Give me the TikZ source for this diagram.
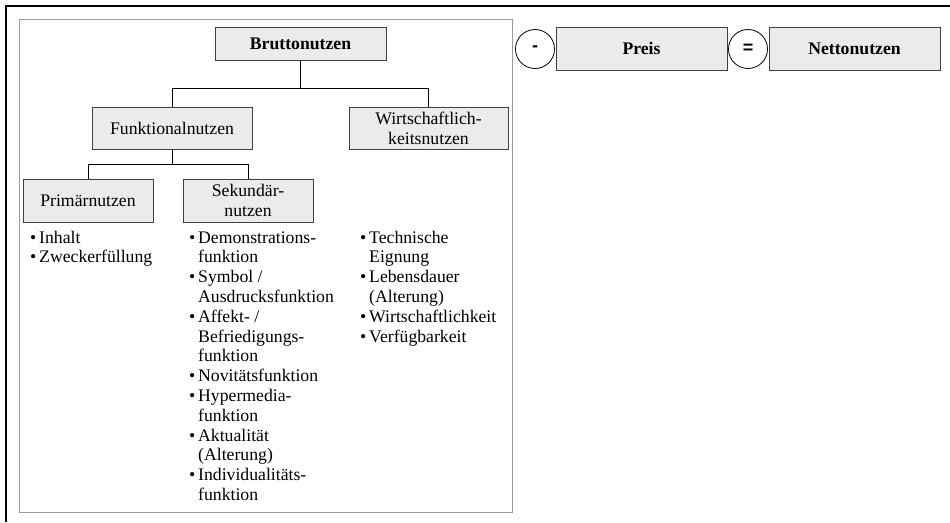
\documentclass[tikz,border=0pt]{standalone}
\usepackage{fontspec}
\setmainfont{Liberation Serif}
\newfontfamily\opfont{Liberation Sans}
\definecolor{boxfill}{HTML}{EBEBEB}
\definecolor{boxline}{HTML}{404040}
\definecolor{framegray}{HTML}{9A9A9A}
\newcommand{\bul}{\makebox[9pt][l]{\textbullet}}
\newcommand{\ind}{\hspace*{9pt}}
\newcommand{\li}[1]{\hbox{#1}}
\newcommand{\mylist}[1]{\vtop{\baselineskip=19.8pt\lineskiplimit=-10pt #1}}
\begin{document}
\begin{tikzpicture}[x=1pt,y=-1pt,
  every node/.style={font=\fontsize{17.7}{20}\selectfont},
  box/.style={draw=boxline, fill=boxfill, line width=0.9pt, inner sep=0pt, align=center},
  op/.style={draw=black, circle, line width=0.8pt, minimum size=39pt, inner sep=0pt, font=\opfont\bfseries\fontsize{18}{20}\selectfont},
  conn/.style={draw=black, line width=0.9pt},
  blist/.style={anchor=base west, inner sep=0pt}
]
\useasboundingbox (0,0) rectangle (950,522);
\fill[white] (0,0) rectangle (950,522);
% frames
\draw[line width=2.2pt, black] (6,522) -- (6,6) -- (950,6);
\draw[framegray, line width=1pt] (19,19) rectangle (512,512);
% boxes
\node[box, minimum width=171pt, minimum height=33pt, font=\fontsize{17.7}{20}\selectfont\bfseries] (brutto) at (300.5,43.5) {Bruttonutzen};
\node[box, minimum width=160pt, minimum height=42pt] (funk) at (172,128) {Funktionalnutzen};
\node[box, minimum width=159pt, minimum height=42pt] (wirt) at (428.5,128) {Wirtschaftlich-\\keitsnutzen};
\node[box, minimum width=130pt, minimum height=43pt] (prim) at (88,200.5) {Primärnutzen};
\node[box, minimum width=130pt, minimum height=43pt] (sek) at (248,200.5) {Sekundär-\\nutzen};
\node[box, minimum width=171pt, minimum height=43pt, font=\fontsize{17.7}{20}\selectfont\bfseries] (preis) at (641.5,48.5) {Preis};
\node[box, minimum width=171pt, minimum height=43pt, font=\fontsize{17.7}{20}\selectfont\bfseries] (netto) at (854.5,48.5) {Nettonutzen};
\node[op] (minus) at (535,49) {-};
\node[op] (equals) at (748,49) {=};
% connectors
\coordinate (j1) at (300.5,88);
\coordinate (j2) at (172,164);
\draw[conn] (brutto.south) -- (j1);
\draw[conn] (j1) -| (funk.north);
\draw[conn] (j1) -| (wirt.north);
\draw[conn] (funk.south) -- (j2);
\draw[conn] (j2) -| (prim.north);
\draw[conn] (j2) -| (sek.north);
% lists
\node[blist] (l1) at (30,243) {\mylist{\li{\bul Inhalt}\li{\bul Zweckerfüllung}}};
\node[blist] (l2) at (189,243) {\mylist{\li{\bul Demonstrations-}\li{\ind funktion}\li{\bul Symbol /}\li{\ind Ausdrucksfunktion}\li{\bul Affekt- /}\li{\ind Befriedigungs-}\li{\ind funktion}\li{\bul Novitätsfunktion}\li{\bul Hypermedia-}\li{\ind funktion}\li{\bul Aktualität}\li{\ind (Alterung)}\li{\bul Individualitäts-}\li{\ind funktion}}};
\node[blist] (l3) at (360,243) {\mylist{\li{\bul Technische}\li{\ind Eignung}\li{\bul Lebensdauer}\li{\ind (Alterung)}\li{\bul Wirtschaftlichkeit}\li{\bul Verfügbarkeit}}};
\end{tikzpicture}
\end{document}
